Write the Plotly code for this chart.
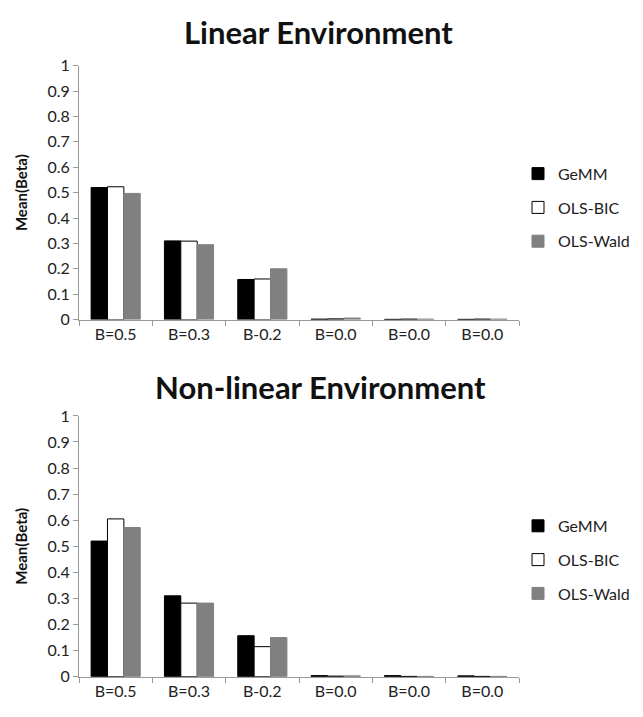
import plotly.graph_objects as go

categories = ["B=0.5", "B=0.3", "B-0.2", "B=0.0", "B=0.0", "B=0.0"]
x_slots = ["c1", "c2", "c3", "c4", "c5", "c6"]
series_names = ["GeMM", "OLS-BIC", "OLS-Wald"]

linear_gemm = [0.52, 0.31, 0.158, 0.002, 0.001, 0.001]
linear_bic = [0.523, 0.309, 0.16, 0.003, 0.002, 0.002]
linear_wald = [0.497, 0.295, 0.20, 0.006, 0.002, 0.002]

nonlin_gemm = [0.52, 0.31, 0.157, 0.004, 0.004, 0.003]
nonlin_bic = [0.605, 0.282, 0.115, 0.002, 0.001, 0.001]
nonlin_wald = [0.572, 0.282, 0.15, 0.003, 0.001, 0.001]

y_ticks = [0, 0.1, 0.2, 0.3, 0.4, 0.5, 0.6, 0.7, 0.8, 0.9, 1]
y_ticktext = ["0", "0.1", "0.2", "0.3", "0.4", "0.5", "0.6", "0.7", "0.8", "0.9", "1"]

FONT = "Lato"
fills = ["#000000", "#ffffff", "#808080"]
lines = ["#000000", "#000000", "#808080"]

# The page body adds an 8px margin, so the figure is sized to fill the window exactly.
W, H = 627, 701

fig = go.Figure()

panels = [
    ("x", "y", "legend", [linear_gemm, linear_bic, linear_wald]),
    ("x2", "y2", "legend2", [nonlin_gemm, nonlin_bic, nonlin_wald]),
]
for xa, ya, lg, data in panels:
    for i, (name, vals) in enumerate(zip(series_names, data)):
        fig.add_trace(go.Bar(
            x=x_slots, y=vals, name=name,
            marker=dict(color=fills[i], line=dict(color=lines[i], width=1)),
            xaxis=xa, yaxis=ya, legend=lg, legendgroup=lg + name,
        ))

xdom = [71 / W, 511 / W]
ydom1 = [1 - 310 / H, 1 - 49 / H]
ydom2 = [1 - 677 / H, 1 - 409 / H]

axis_common = dict(showline=True, linecolor="#999999", linewidth=1,
                   ticks="outside", tickcolor="#999999", ticklen=5,
                   showgrid=False, zeroline=False,
                   tickfont=dict(family=FONT, size=16, color="#222"))

xax = dict(axis_common, type="category", tickmode="array", tickvals=x_slots,
           ticktext=categories, tickson="boundaries", domain=xdom)
yax = dict(axis_common, range=[0, 1], tickmode="array", tickvals=y_ticks,
           ticktext=y_ticktext,
           title=dict(text="<b>Mean(Beta)</b>", font=dict(family=FONT, size=15, color="#111"),
                      standoff=16))

leg_common = dict(x=510 / W, xanchor="left", yanchor="middle",
                  font=dict(family=FONT, size=16, color="#222"),
                  tracegroupgap=10, itemwidth=30, bgcolor="rgba(0,0,0,0)")

fig.update_layout(
    width=W, height=H,
    margin=dict(l=0, r=0, t=0, b=0),
    plot_bgcolor="white", paper_bgcolor="white",
    barmode="group", bargap=0.33, bargroupgap=0,
    xaxis=dict(xax, anchor="y"),
    yaxis=dict(yax, domain=ydom1, anchor="x"),
    xaxis2=dict(xax, anchor="y2"),
    yaxis2=dict(yax, domain=ydom2, anchor="x2"),
    legend=dict(leg_common, y=1 - 195 / H),
    legend2=dict(leg_common, y=1 - 557 / H),
    annotations=[
        dict(text="<b>Linear Environment</b>", x=310 / W, y=1 - 14 / H,
             xref="paper", yref="paper", showarrow=False, xanchor="center", yanchor="middle",
             font=dict(family=FONT, size=31, color="#111")),
        dict(text="<b>Non-linear Environment</b>", x=312 / W, y=1 - 379 / H,
             xref="paper", yref="paper", showarrow=False, xanchor="center", yanchor="middle",
             font=dict(family=FONT, size=31, color="#111")),
    ],
)

fig.write_html("out.html")
